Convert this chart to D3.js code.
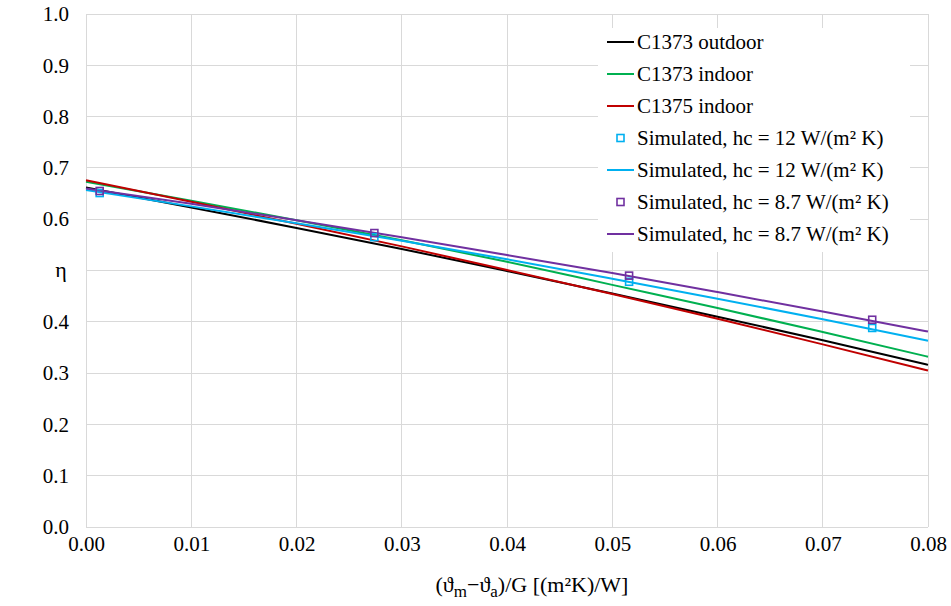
<!DOCTYPE html>
<html>
<head>
<meta charset="utf-8">
<script src="https://cdn.jsdelivr.net/npm/d3@7"></script>
<style>
  body { margin: 0; background: #fff; }
  svg text { font-family: "Liberation Serif", "Times New Roman", Times, serif; }
</style>
</head>
<body>
<svg id="chart" width="951" height="606"></svg>
<script>
// Collector efficiency versus reduced temperature difference
const xTicks = [0, 0.01, 0.02, 0.03, 0.04, 0.05, 0.06, 0.07, 0.08];
const yTicks = [0, 0.1, 0.2, 0.3, 0.4, 0.5, 0.6, 0.7, 0.8, 0.9, 1.0];

// Curves sampled at each x tick
const curveX = [0, 0.01, 0.02, 0.03, 0.04, 0.05, 0.06, 0.07, 0.08];
const c1373Outdoor = [0.662, 0.623, 0.583, 0.542, 0.499, 0.455, 0.410, 0.364, 0.316];
const c1373Indoor  = [0.673, 0.636, 0.598, 0.559, 0.517, 0.472, 0.427, 0.380, 0.332];
const c1375Indoor  = [0.676, 0.634, 0.591, 0.547, 0.501, 0.454, 0.406, 0.356, 0.305];
const sim12Line    = [0.657, 0.625, 0.592, 0.558, 0.522, 0.484, 0.445, 0.405, 0.363];
const sim87Line    = [0.660, 0.630, 0.598, 0.565, 0.530, 0.495, 0.458, 0.420, 0.381];

// Simulated points
const simX      = [0.0013, 0.0274, 0.0516, 0.0747];
const sim12Pts  = [0.651, 0.565, 0.478, 0.388];
const sim87Pts  = [0.655, 0.573, 0.490, 0.404];

const legendLabels = [
  "C1373 outdoor", "C1373 indoor", "C1375 indoor",
  "Simulated, hc = 12 W/(m² K)", "Simulated, hc = 12 W/(m² K)",
  "Simulated, hc = 8.7 W/(m² K)", "Simulated, hc = 8.7 W/(m² K)"
];

const FONT = "Liberation Serif";
const fs = 21;

const svg = d3.select("#chart").style("font-family", FONT);
const m = { left: 86, right: 928, top: 14, bottom: 527 };

const x = d3.scaleLinear().domain([0, 0.08]).range([m.left, m.right]);
const y = d3.scaleLinear().domain([0, 1]).range([m.bottom, m.top]);

const grid = "#d9d9d9";

// Grid
svg.append("g").selectAll("line").data(xTicks).join("line")
  .attr("x1", d => x(d)).attr("x2", d => x(d))
  .attr("y1", m.top).attr("y2", m.bottom)
  .attr("stroke", grid).attr("stroke-width", 1).attr("shape-rendering", "crispEdges");
svg.append("g").selectAll("line").data(yTicks).join("line")
  .attr("x1", m.left).attr("x2", m.right)
  .attr("y1", d => y(d)).attr("y2", d => y(d))
  .attr("stroke", grid).attr("stroke-width", 1).attr("shape-rendering", "crispEdges");

// Axes (labels only; the lines come from the grid). The 0.5 label sits under the η title.
const xAxis = svg.append("g").attr("transform", `translate(0,${m.bottom})`)
  .call(d3.axisBottom(x).tickValues(xTicks).tickFormat(d3.format(".2f")).tickSize(0).tickPadding(9));
const yAxis = svg.append("g").attr("transform", `translate(${m.left},0)`)
  .call(d3.axisLeft(y).tickValues(yTicks)
    .tickFormat(d => (Math.abs(d - 0.5) < 1e-9 ? "" : d3.format(".1f")(d)))
    .tickSize(0).tickPadding(17));
[xAxis, yAxis].forEach(a => {
  a.attr("font-family", null).attr("font-size", null);
  a.select(".domain").remove();
  a.selectAll("text").style("font-size", fs + "px").style("font-family", FONT).attr("fill", "#000");
});

// Series
const series = [
  { vals: c1373Outdoor, color: "#000000" },
  { vals: c1373Indoor,  color: "#00b050" },
  { vals: c1375Indoor,  color: "#c00000" },
  { vals: sim12Line,    color: "#00b0f0" },
  { vals: sim87Line,    color: "#7030a0" }
];
const line = d3.line().x(d => x(d[0])).y(d => y(d[1])).curve(d3.curveMonotoneX);
series.forEach(s => {
  svg.append("path")
    .datum(curveX.map((v, i) => [v, s.vals[i]]))
    .attr("d", line).attr("fill", "none")
    .attr("stroke", s.color).attr("stroke-width", 2);
});

function squares(vals, color) {
  svg.append("g").selectAll("rect").data(simX.map((v, i) => [v, vals[i]])).join("rect")
    .attr("x", d => x(d[0]) - 3.5).attr("y", d => y(d[1]) - 3.5)
    .attr("width", 7).attr("height", 7)
    .attr("fill", "none").attr("stroke", color).attr("stroke-width", 1.6);
}
squares(sim12Pts, "#00b0f0");
squares(sim87Pts, "#7030a0");

// Legend
const lg = svg.append("g");
lg.append("rect").attr("x", 598).attr("y", 28).attr("width", 312).attr("height", 224).attr("fill", "#fff");
const legendItems = [
  { type: "line", color: "#000000" },
  { type: "line", color: "#00b050" },
  { type: "line", color: "#c00000" },
  { type: "mark", color: "#00b0f0" },
  { type: "line", color: "#00b0f0" },
  { type: "mark", color: "#7030a0" },
  { type: "line", color: "#7030a0" }
];
legendItems.forEach((it, i) => {
  const cy = 42 + i * 32;
  if (it.type === "line") {
    lg.append("line").attr("x1", 607).attr("x2", 634).attr("y1", cy).attr("y2", cy)
      .attr("stroke", it.color).attr("stroke-width", 2);
  } else {
    lg.append("rect").attr("x", 620.5 - 3.5).attr("y", cy - 3.5).attr("width", 7).attr("height", 7)
      .attr("fill", "none").attr("stroke", it.color).attr("stroke-width", 1.6);
  }
  lg.append("text").attr("x", 637).attr("y", cy + 7)
    .style("font-size", fs + "px").style("font-family", FONT).attr("fill", "#000")
    .text(legendLabels[i]);
});

// Axis titles
svg.append("text").attr("x", 61).attr("y", 277).attr("text-anchor", "middle")
  .style("font-size", "22px").style("font-family", FONT).text("η");

const xt = svg.append("text").attr("x", 532).attr("y", 592).attr("text-anchor", "middle")
  .style("font-size", "22px").style("font-family", FONT);
xt.append("tspan").text("(ϑ");
xt.append("tspan").style("font-size", "17px").attr("dy", 5).text("m");
xt.append("tspan").attr("dy", -5).text("−ϑ");
xt.append("tspan").style("font-size", "17px").attr("dy", 5).text("a");
xt.append("tspan").attr("dy", -5).text(")/G [(m²K)/W]");
</script>
</body>
</html>
